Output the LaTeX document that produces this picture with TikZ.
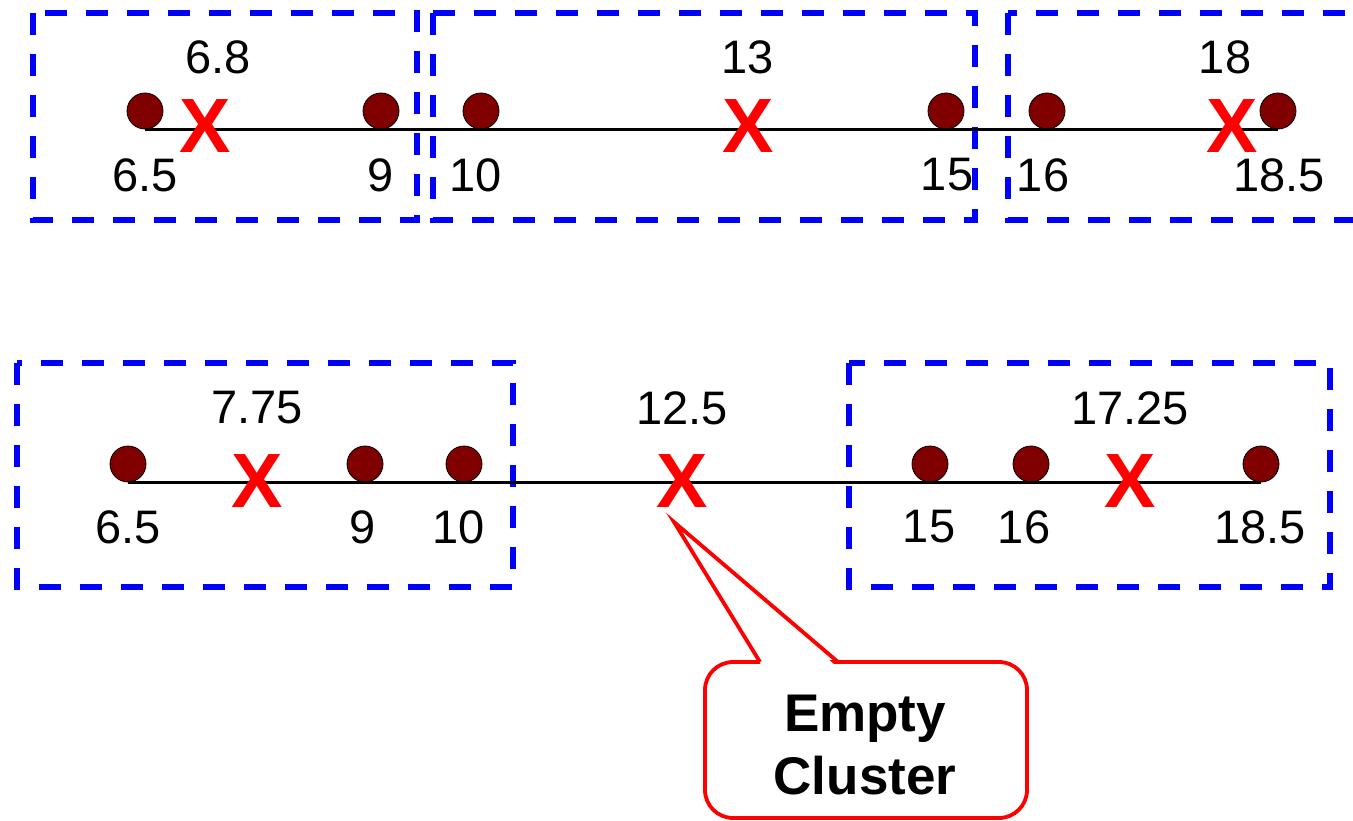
\documentclass[tikz,border=0pt]{standalone}
\usepackage{fontspec}
\setmainfont{Liberation Sans}
\usetikzlibrary{positioning}
\definecolor{dotred}{HTML}{800000}
\definecolor{boxblue}{HTML}{0000FF}
\definecolor{markred}{HTML}{FF0000}

\begin{document}
\begin{tikzpicture}[
  x=1pt,y=-1pt,
  datapt/.style={circle,draw=black,line width=.8pt,fill=dotred,minimum size=36pt,inner sep=0pt},
  vallab/.style={font=\fontsize{47}{56}\selectfont,inner sep=0pt},
  centroid/.style={font=\fontsize{77}{90}\selectfont\bfseries,text=markred,inner sep=0pt},
  clusterbox/.style={draw=boxblue,line width=5.8pt,dash pattern=on 22pt off 19pt},
  axis/.style={draw=black,line width=2.8pt}]
\useasboundingbox (0,0) rectangle (1353,821);
% first iteration
\draw[clusterbox] (33,13) rectangle (417,220);
\draw[clusterbox] (433,13) rectangle (975,220);
\draw[clusterbox] (1008,13) rectangle (1400,220);
\node[datapt] (a1) at (145,111) {};
\node[datapt] (a2) at (381,111) {};
\node[datapt] (a3) at (481,111) {};
\node[datapt] (a4) at (946,111) {};
\node[datapt] (a5) at (1047,111) {};
\node[datapt] (a6) at (1278,111) {};
\draw[axis] (a1.south) -- (a6.south);
\node[vallab] (la1) at (145,175) {6.5};
\node[vallab] (la2) at (381,175) {9};
\node[vallab] (la3) at (476,175) {10};
\node[vallab] (la4) at (947,175) {15};
\node[vallab] (la5) at (1043,175) {16};
\node[vallab] (la6) at (1279,175) {18.5};
\node[centroid] (ca1) at (205,126) {X};
\node[centroid] (ca2) at (748,126) {X};
\node[centroid] (ca3) at (1232,126) {X};
\node[vallab] (ma1) at (218,57) {6.8};
\node[vallab] (ma2) at (748,57) {13};
\node[vallab] (ma3) at (1225,57) {18};
% second iteration
\draw[clusterbox] (17,363) rectangle (513,587);
\draw[clusterbox] (849,363) rectangle (1330,587);
\node[datapt] (b1) at (128,464) {};
\node[datapt] (b2) at (365,464) {};
\node[datapt] (b3) at (464,464) {};
\node[datapt] (b4) at (930,464) {};
\node[datapt] (b5) at (1031,464) {};
\node[datapt] (b6) at (1261,464) {};
\draw[axis] (b1.south) -- (b6.south);
\node[vallab] (lb1) at (128,527) {6.5};
\node[vallab] (lb2) at (363,527) {9};
\node[vallab] (lb3) at (459,527) {10};
\node[vallab] (lb4) at (929,527) {15};
\node[vallab] (lb5) at (1024,527) {16};
\node[vallab] (lb6) at (1260,527) {18.5};
\node[centroid] (cb1) at (257,481) {X};
\node[centroid] (cb2) at (682,481) {X};
\node[centroid] (cb3) at (1130,481) {X};
\node[vallab] (mb1) at (257,408) {7.75};
\node[vallab] (mb2) at (682,408) {12.5};
\node[vallab] (mb3) at (1130,408) {17.25};
% callout
\draw[markred,line width=3.8pt,fill=white,rounded corners=28pt] (705,662) rectangle (1027,818);
\coordinate (tip) at (674,522);
\fill[white] (762,666) -- (tip) -- (836,666) -- cycle;
\draw[markred,line width=3.8pt,line join=miter] (760,662) -- (tip) -- (838,662);
\node[font=\fontsize{53}{63}\selectfont\bfseries,align=center,inner sep=0pt] (empty) at (865,745) {Empty\\Cluster};
\end{tikzpicture}
\end{document}
